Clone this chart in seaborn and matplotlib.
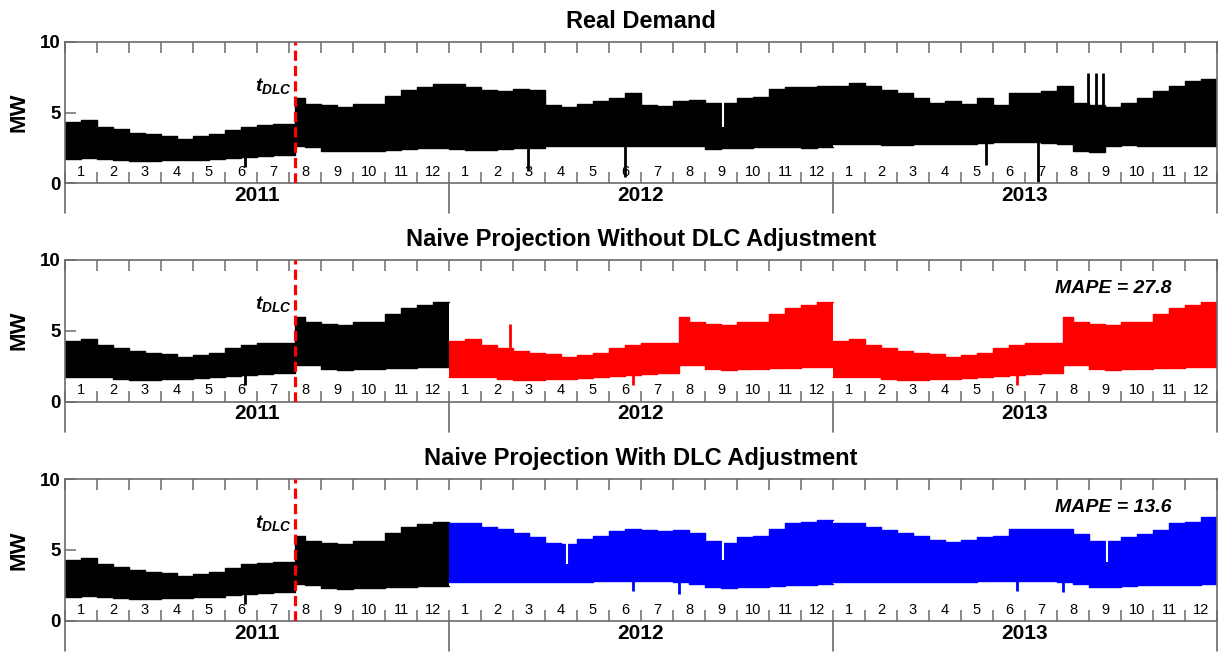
import numpy as np
import pandas as pd
import matplotlib
matplotlib.use("Agg")
import matplotlib.pyplot as plt
import seaborn as sns

# ---------------- data ----------------
YEARS = ["2011", "2012", "2013"]
MONTH_LABELS = [str(m) for m in range(1, 13)]
TITLES = ["Real Demand",
          "Naive Projection Without DLC Adjustment",
          "Naive Projection With DLC Adjustment"]
MAPE = [None, 27.8, 13.6]
DLC_MONTH = 7.2  # months since Jan 2011

# half-month daily peak (hi) and trough (lo) envelopes, MW
real_hi_2011 = [4.3, 4.45, 4.0, 3.8, 3.55, 3.45, 3.35, 3.15, 3.3, 3.45, 3.75, 4.0,
                4.1, 4.15, 6.0, 5.6, 5.5, 5.4, 5.6, 5.6, 6.2, 6.6, 6.8, 7.0]
real_lo_2011 = [1.7, 1.75, 1.7, 1.6, 1.55, 1.55, 1.6, 1.6, 1.65, 1.7, 1.8, 1.85,
                1.95, 2.0, 2.6, 2.55, 2.3, 2.25, 2.3, 2.3, 2.35, 2.4, 2.45, 2.45]
real_hi_2012 = [7.0, 6.8, 6.6, 6.5, 6.7, 6.6, 5.5, 5.4, 5.6, 5.8, 6.0, 6.4,
                5.5, 5.45, 5.8, 5.9, 5.7, 5.7, 6.0, 6.1, 6.7, 6.8, 6.8, 6.9]
real_lo_2012 = [2.4, 2.35, 2.35, 2.4, 2.45, 2.5, 2.6, 2.6, 2.6, 2.6, 2.6, 2.6,
                2.65, 2.65, 2.65, 2.6, 2.4, 2.45, 2.5, 2.55, 2.55, 2.55, 2.5, 2.55]
real_hi_2013 = [6.9, 7.1, 6.9, 6.6, 6.4, 6.0, 5.7, 5.8, 5.6, 6.0, 5.5, 6.4,
                6.4, 6.5, 6.9, 5.7, 5.5, 5.4, 5.7, 6.0, 6.5, 6.9, 7.2, 7.4]
real_lo_2013 = [2.75, 2.8, 2.75, 2.7, 2.7, 2.75, 2.8, 2.8, 2.8, 2.85, 2.9, 2.9,
                2.9, 2.85, 2.8, 2.3, 2.2, 2.6, 2.7, 2.65, 2.6, 2.6, 2.6, 2.6]

naive_hi_2012 = [4.3, 4.45, 4.0, 3.8, 3.55, 3.45, 3.35, 3.15, 3.3, 3.45, 3.75, 4.0,
                 4.1, 4.15, 6.0, 5.6, 5.5, 5.4, 5.6, 5.6, 6.2, 6.6, 6.8, 7.0]
naive_lo_2012 = [1.7, 1.75, 1.7, 1.6, 1.55, 1.55, 1.6, 1.6, 1.65, 1.7, 1.8, 1.85,
                 1.95, 2.0, 2.6, 2.55, 2.3, 2.25, 2.3, 2.3, 2.35, 2.4, 2.45, 2.45]
naive_hi_2013 = [4.3, 4.45, 4.0, 3.8, 3.55, 3.45, 3.35, 3.15, 3.3, 3.45, 3.75, 4.0,
                 4.1, 4.15, 6.0, 5.6, 5.5, 5.4, 5.6, 5.6, 6.2, 6.6, 6.8, 7.0]
naive_lo_2013 = [1.7, 1.75, 1.7, 1.6, 1.55, 1.55, 1.6, 1.6, 1.65, 1.7, 1.8, 1.85,
                 1.95, 2.0, 2.6, 2.55, 2.3, 2.25, 2.3, 2.3, 2.35, 2.4, 2.45, 2.45]

adj_hi_2012 = [6.9, 6.9, 6.6, 6.45, 6.2, 5.9, 5.5, 5.4, 5.8, 5.95, 6.3, 6.5,
               6.4, 6.3, 6.4, 6.2, 5.6, 5.5, 5.9, 6.0, 6.5, 6.9, 7.0, 7.1]
adj_lo_2012 = [2.75, 2.75, 2.75, 2.75, 2.75, 2.75, 2.75, 2.75, 2.75, 2.8, 2.8, 2.8,
               2.8, 2.8, 2.75, 2.6, 2.35, 2.3, 2.35, 2.4, 2.45, 2.5, 2.55, 2.6]
adj_hi_2013 = [6.9, 6.9, 6.6, 6.4, 6.2, 6.0, 5.7, 5.55, 5.7, 5.9, 6.0, 6.5,
               6.5, 6.5, 6.5, 6.1, 5.6, 5.6, 5.9, 6.1, 6.4, 6.9, 7.0, 7.3]
adj_lo_2013 = [2.75, 2.75, 2.75, 2.75, 2.75, 2.75, 2.75, 2.75, 2.75, 2.8, 2.8, 2.8,
               2.8, 2.8, 2.75, 2.6, 2.35, 2.35, 2.45, 2.5, 2.5, 2.5, 2.55, 2.6]

# isolated spikes (month position, MW)
real_down_x = [5.63, 14.48, 17.5, 28.77, 30.42]
real_down_y = [1.15, 0.85, 0.45, 1.3, 0.1]
real_up_x = [31.96, 32.21, 32.45]
real_up_y = [7.8, 7.8, 7.8]
real_dip_x = [20.55]
real_dip_y = [4.0]
naive_down_x = [17.74, 29.74]
naive_down_y = [1.2, 1.2]
naive_up_x = [13.9]
naive_up_y = [5.45]
adj_down_x = [17.74, 19.2, 29.74, 31.2]
adj_down_y = [2.1, 1.9, 2.1, 2.0]
adj_dip_x = [15.7, 20.55, 32.55]
adj_dip_y = [4.0, 4.3, 4.15]

# ---------------- style ----------------
sns.set_theme(style="white")
plt.rcParams["font.family"] = ["Liberation Sans", "DejaVu Sans"]
plt.rcParams["mathtext.fontset"] = "custom"
plt.rcParams["mathtext.it"] = "Liberation Sans:italic:bold"
plt.rcParams["mathtext.rm"] = "Liberation Sans:bold"
plt.rcParams["mathtext.bf"] = "Liberation Sans:bold"
for key in ["text.color", "axes.labelcolor", "xtick.color", "ytick.color",
            "axes.titlecolor"]:
    plt.rcParams[key] = "black"

SPINE = "#6b6b6b"
W, H = 1219, 653
fig = plt.figure(figsize=(W / 100, H / 100), dpi=100)
fig.patch.set_facecolor("white")
panels_px = [(42, 183), (260, 401.5), (479, 620.7)]


def draw_year(ax, year_idx, hi, lo, color, dlc_split):
    edges = year_idx * 12 + np.arange(25) * 0.5
    if dlc_split:
        edges[14] = year_idx * 12 + DLC_MONTH
    yh = np.append(hi, hi[-1])
    yl = np.append(lo, lo[-1])
    ax.fill_between(edges, yl, yh, step="post", color=color, lw=0, zorder=2)
    df = pd.DataFrame({"x": edges, "hi": yh, "lo": yl})
    sns.lineplot(data=df, x="x", y="hi", ax=ax, color=color, lw=1.0,
                 drawstyle="steps-post", zorder=2, legend=False)
    sns.lineplot(data=df, x="x", y="lo", ax=ax, color=color, lw=1.0,
                 drawstyle="steps-post", zorder=2, legend=False)


axes = []
for top, bot in panels_px:
    ax = fig.add_axes([65 / W, 1 - bot / H, (1217 - 65) / W, (bot - top) / H])
    axes.append(ax)

# panel 1: real demand
ax = axes[0]
draw_year(ax, 0, real_hi_2011, real_lo_2011, "black", True)
draw_year(ax, 1, real_hi_2012, real_lo_2012, "black", False)
draw_year(ax, 2, real_hi_2013, real_lo_2013, "black", False)
ax.vlines(real_down_x, real_down_y, 3.0, color="black", lw=2, zorder=2)
ax.vlines(real_up_x, 5.0, real_up_y, color="black", lw=2, zorder=2)
ax.vlines(real_dip_x, real_dip_y, 6.0, color="white", lw=1.5, zorder=2)

# panel 2: naive projection without DLC adjustment
ax = axes[1]
draw_year(ax, 0, real_hi_2011, real_lo_2011, "black", True)
draw_year(ax, 1, naive_hi_2012, naive_lo_2012, "#ff0000", True)
draw_year(ax, 2, naive_hi_2013, naive_lo_2013, "#ff0000", True)
ax.vlines(real_down_x[:1], real_down_y[:1], 3.0, color="black", lw=2, zorder=2)
ax.vlines(naive_down_x, naive_down_y, 3.0, color="#ff0000", lw=2, zorder=2)
ax.vlines(naive_up_x, 3.0, naive_up_y, color="#ff0000", lw=2, zorder=2)

# panel 3: naive projection with DLC adjustment
ax = axes[2]
draw_year(ax, 0, real_hi_2011, real_lo_2011, "black", True)
draw_year(ax, 1, adj_hi_2012, adj_lo_2012, "#0000ff", False)
draw_year(ax, 2, adj_hi_2013, adj_lo_2013, "#0000ff", False)
ax.vlines(real_down_x[:1], real_down_y[:1], 3.0, color="black", lw=2, zorder=2)
ax.vlines(adj_down_x, adj_down_y, 3.5, color="#0000ff", lw=2, zorder=2)
ax.vlines(adj_dip_x, adj_dip_y, 6.0, color="white", lw=1.5, zorder=2)

for i, ax in enumerate(axes):
    ax.set_xlim(0, 36)
    ax.set_ylim(0, 10)
    ax.set_xlabel("")
    ax.set_facecolor("white")
    for s in ax.spines.values():
        s.set_color(SPINE)
        s.set_linewidth(1.2)
        s.set_visible(True)
    ax.set_yticks([0, 5, 10])
    ax.set_yticklabels(["0", "5", "10"], fontsize=13.5, fontweight="bold",
                       color="black")
    ax.tick_params(axis="y", direction="in", length=8, width=1.1, color=SPINE,
                   labelcolor="black", left=True, right=False, pad=3)
    ax.set_xticks(np.arange(0, 37))
    ax.tick_params(axis="x", direction="in", length=8, width=1.1, color=SPINE,
                   top=True, bottom=True, labelbottom=False)
    ax.set_ylabel("MW", fontsize=16, fontweight="bold", color="black")
    ax.yaxis.set_label_coords(-0.031, 0.5)
    ax.set_title(TITLES[i], fontsize=17, fontweight="bold", pad=10,
                 color="black")

    tr = ax.get_xaxis_transform()
    for k in range(36):
        ax.text(k + 0.5, 0.078, MONTH_LABELS[k % 12], transform=tr,
                ha="center", va="center", fontsize=10.5, color="black",
                zorder=6)
    for b in [0, 12, 24, 36]:
        ax.plot([b, b], [0, -0.215], transform=tr, clip_on=False,
                color=SPINE, lw=1.2)
    for y, lab in enumerate(YEARS):
        ax.text(6 + 12 * y, -0.088, lab, transform=tr, ha="center",
                va="center", fontsize=15, fontweight="bold", color="black")

    ax.axvline(DLC_MONTH, color="#ff0000", lw=2.3, ls=(0, (3.2, 1.6)), zorder=5)
    ax.text(DLC_MONTH - 0.12, 6.9, r"$t_{DLC}$", ha="right", va="center",
            fontsize=14, color="black", zorder=6)
    if MAPE[i] is not None:
        ax.text(32.75, 8.0, f"MAPE = {MAPE[i]}", ha="center", va="center",
                fontsize=14, fontweight="bold", style="italic", color="black",
                zorder=6)

fig.savefig("out.png", dpi=100, facecolor="white")
